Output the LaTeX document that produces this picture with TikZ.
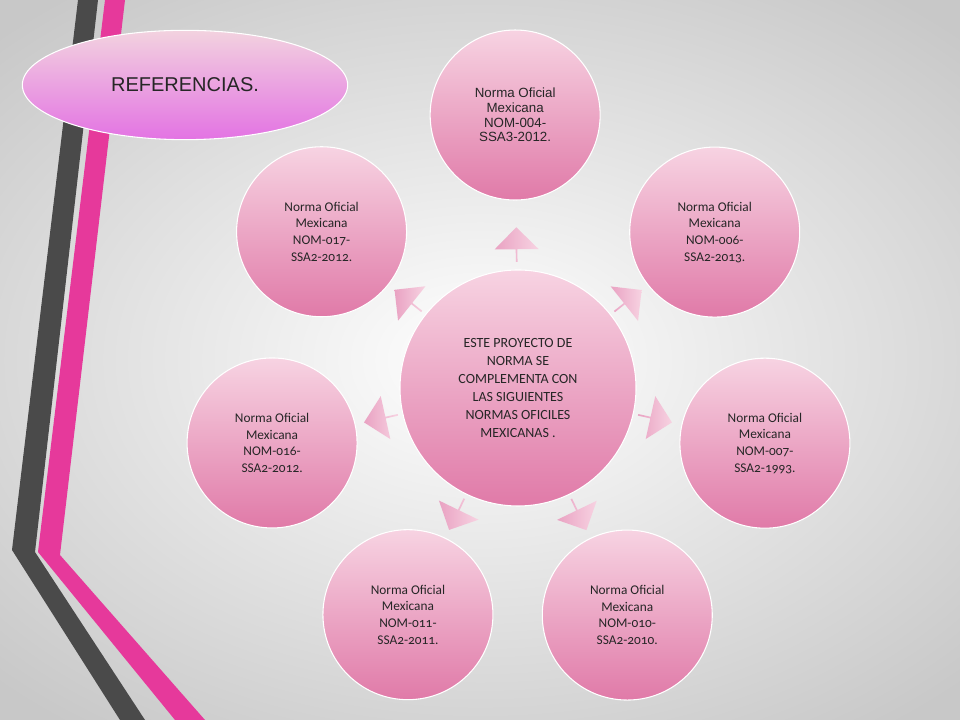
\documentclass[tikz,border=0pt]{standalone}
\usepackage{fontspec}
\setmainfont{Carlito}[Numbers=OldStyle]
\newfontfamily\arialfont{Liberation Sans}
\usetikzlibrary{shapes.arrows,shapes.geometric,calc}
\definecolor{pinktop}{HTML}{F7D3E2}
\definecolor{pinkbot}{HTML}{E07AA8}
\definecolor{stripepink}{HTML}{E6399B}
\definecolor{stripegray}{HTML}{4A4A4A}
\definecolor{bgtop}{HTML}{FFFFFF}
\definecolor{bgbot}{HTML}{C8C8C8}
\begin{document}
\begin{tikzpicture}[x=0.75pt,y=0.75pt,
    every node/.style={font=\fontsize{10}{12.5}\selectfont, text=black!85},
    normcircle/.style={circle, draw=white, line width=0.8pt, minimum size=127.5pt, inner sep=0pt,
        align=center, top color=pinktop, bottom color=pinkbot},
    flecha/.style={single arrow, draw=none, minimum height=26pt, minimum width=33pt,
        single arrow head extend=5pt, inner sep=0pt, left color=pinkbot!70, right color=pinktop}
]
% fondo
\useasboundingbox (0,0) rectangle (960,720);
\shade[inner color=bgtop, outer color=bgbot] (-200,-100) rectangle (1160,820);
% franjas
\fill[stripegray] (78,720) -- (98,720) -- (35,168) -- (145,0) -- (120,0) -- (12,170) -- cycle;
\fill[stripepink] (105,720) -- (125,720) -- (60,165) -- (205,0) -- (175,0) -- (38,168) -- cycle;
% titulo
\node[ellipse, minimum width=244pt, minimum height=82pt, draw=white, line width=0.8pt,
    top color=violet!25!pink!40, bottom color=violet!40!magenta!55,
    font=\arialfont\fontsize{15}{18}\selectfont] (titulo) at (185,635) {REFERENCIAS.};
% centro
\node[normcircle, minimum size=177pt, font=\fontsize{10.5}{13.5}\selectfont] (centro) at (518,332)
    {ESTE PROYECTO DE\\NORMA SE\\COMPLEMENTA CON\\LAS SIGUIENTES\\NORMAS OFICILES\\MEXICANAS .};
% circulos exteriores
\node[normcircle, font=\arialfont\fontsize{10}{11}\selectfont] (nom004) at ($(centro)+(90.6:273)$)
    {Norma Oficial\\Mexicana\\NOM-004-\\SSA3-2012.};
\node[normcircle] (nom006) at ($(centro)+(38.4:251)$) {Norma Oficial\\Mexicana\\NOM-006-\\SSA2-2013.};
\node[normcircle] (nom007) at ($(centro)+(-12.6:253)$) {Norma Oficial\\Mexicana\\NOM-007-\\SSA2-1993.};
\node[normcircle] (nom010) at ($(centro)+(-64.3:252)$) {Norma Oficial\\Mexicana\\NOM-010-\\SSA2-2010.};
\node[normcircle] (nom011) at ($(centro)+(-115.9:252)$) {Norma Oficial\\Mexicana\\NOM-011-\\SSA2-2011.};
\node[normcircle] (nom016) at ($(centro)+(192.6:252)$) {Norma Oficial\\Mexicana\\NOM-016-\\SSA2-2012.};
\node[normcircle] (nom017) at ($(centro)+(141.5:251)$) {Norma Oficial\\Mexicana\\NOM-017-\\SSA2-2012.};
% flechas
\foreach \ang/\dist in {90.6/143, 38.4/140, -12.6/140, -64.3/140, -115.9/140, 192.6/140, 141.5/140}
    \node[flecha, rotate=\ang] at ($(centro)+(\ang:\dist)$) {};
\end{tikzpicture}
\end{document}
